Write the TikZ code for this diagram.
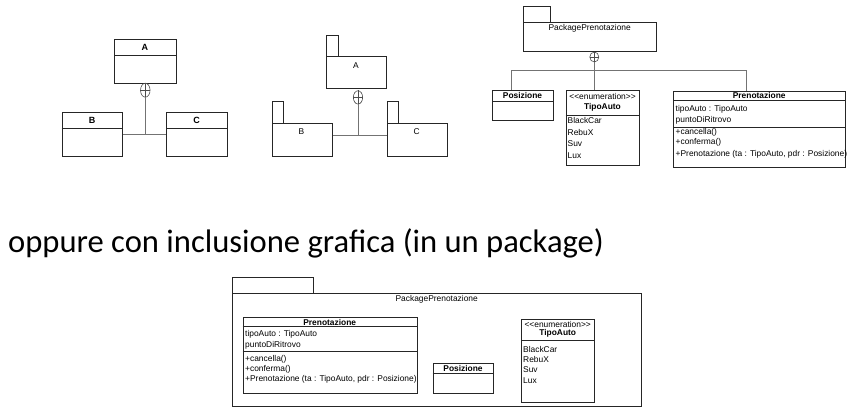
\documentclass[tikz,border=0pt]{standalone}
\usepackage{fontspec}
\setmainfont{Liberation Sans}
\newfontfamily\headfont{Carlito}
\usetikzlibrary{shapes.geometric}
\begin{document}
\begin{tikzpicture}[x=1pt,y=-1pt,
  box/.style={draw=black!85, line width=0.7pt, inner sep=0pt, anchor=north west},
  sepl/.style={draw=black!85, line width=0.6pt},
  conn/.style={draw=black!55, line width=0.8pt},
  txt/.style={inner sep=0pt, font=\fontsize{8.4}{10}\selectfont},
  ltxt/.style={txt, anchor=west},
  ttl/.style={inner sep=0pt, font=\fontsize{8.4}{10}\selectfont\bfseries},
  big/.style={inner sep=0pt, font=\fontsize{9}{10}\selectfont\bfseries},
  opl/.style={ellipse, draw=black!70, line width=0.6pt, inner sep=0pt},
]
\useasboundingbox (0,0) rectangle (856,414);

% ---------- Diagram 1 ----------
\node[box, minimum width=61.7pt, minimum height=43.4pt] (A1) at (114,39.3) {};
\draw[sepl] (114,55) -- (175.7,55);
\node[big] (A1t) at (144.8,47.2) {A};
\node[box, minimum width=60.6pt, minimum height=44pt] (B1) at (61.7,112) {};
\draw[sepl] (61.7,128.3) -- (122.3,128.3);
\node[big] (B1t) at (92,120.2) {B};
\node[box, minimum width=61.3pt, minimum height=44pt] (C1) at (166,112) {};
\draw[sepl] (166,128.3) -- (227.3,128.3);
\node[big] (C1t) at (196.7,120.2) {C};
\node[opl, minimum width=9.5pt, minimum height=14pt] (op1) at (145.3,90.2) {};
\draw[black!70, line width=0.6pt] (op1.north) -- (op1.south) (op1.west) -- (op1.east);
\coordinate (j1) at (145.3,134.3);
\draw[conn] (op1.south) -- (j1);
\draw[conn] (B1.east |- j1) -- (C1.west |- j1);

% ---------- Diagram 2 ----------
\node[box, minimum width=12pt, minimum height=21pt] (A2tab) at (325.7,35) {};
\node[box, minimum width=60.3pt, minimum height=32.3pt] (A2) at (325.7,56) {};
\node[txt] (A2t) at (355.8,66) {A};
\node[box, minimum width=11pt, minimum height=22.3pt] (B2tab) at (271.7,101) {};
\node[box, minimum width=60.6pt, minimum height=32.7pt] (B2) at (271.7,123.3) {};
\node[txt] (B2t) at (301.5,131.7) {B};
\node[box, minimum width=11.3pt, minimum height=22.3pt] (C2tab) at (387,101) {};
\node[box, minimum width=60.3pt, minimum height=32.7pt] (C2) at (387,123.3) {};
\node[txt] (C2t) at (416.7,131.7) {C};
\node[opl, minimum width=9.3pt, minimum height=13.3pt] (op2) at (358,97.4) {};
\draw[black!70, line width=0.6pt] (op2.north) -- (op2.south) (op2.west) -- (op2.east);
\coordinate (j2) at (358,135.7);
\draw[conn] (op2.south) -- (j2);
\draw[conn] (B2.east |- j2) -- (C2.west |- j2);

% ---------- Diagram 3 ----------
\node[box, minimum width=26.7pt, minimum height=15.7pt] (P3tab) at (523.3,6) {};
\node[box, minimum width=132.7pt, minimum height=29pt] (P3) at (523.3,21.7) {};
\node[txt] (P3t) at (589.7,28.3) {PackagePrenotazione};
\node[opl, minimum width=9pt, minimum height=10pt] (op3) at (594.3,57) {};
\draw[black!70, line width=0.6pt] (op3.north) -- (op3.south) (op3.west) -- (op3.east);

\node[box, minimum width=60.4pt, minimum height=30pt] (Pos3) at (492.3,90) {};
\draw[sepl] (492.3,101) -- (552.7,101);
\node[ttl] (Pos3t) at (522.5,95.5) {Posizione};

\node[box, minimum width=73.6pt, minimum height=75pt] (T3) at (565.7,90) {};
\node[txt] (T3s) at (602.5,96.7) {{<}{<}enumeration{>}{>}};
\node[ttl] (T3t) at (602.5,107.7) {TipoAuto};
\draw[sepl] (565.7,115) -- (639.3,115);
\node[ltxt] (T3a) at (567.5,120.7) {BlackCar};
\node[ltxt] (T3b) at (567.5,132) {RebuX};
\node[ltxt] (T3c) at (567.5,144) {Suv};
\node[ltxt] (T3d) at (567.5,155.3) {Lux};

\node[box, minimum width=171.7pt, minimum height=76.6pt] (Pren3) at (673.3,90.7) {};
\node[ttl] (Pren3t) at (759.2,95.5) {Prenotazione};
\draw[sepl] (673.3,100.3) -- (845,100.3);
\node[ltxt] (Pren3a) at (675.5,109.3) {tipoAuto : TipoAuto};
\node[ltxt] (Pren3b) at (675.5,120.7) {puntoDiRitrovo};
\draw[sepl] (673.3,127.3) -- (845,127.3);
\node[ltxt] (Pren3c) at (675.5,132) {+cancella()};
\node[ltxt] (Pren3d) at (675.5,142.7) {+conferma()};
\node[ltxt] (Pren3e) at (675.5,154) {+Prenotazione (ta : TipoAuto, pdr : Posizione)};

\coordinate (h3l) at (511,70);
\coordinate (h3r) at (746.5,70);
\draw[conn] (op3.south) -- (op3.south |- T3.north);
\draw[conn] (Pos3.north -| h3l) -- (h3l) -- (h3r) -- (h3r |- Pren3.north);

% ---------- Heading ----------
\node[anchor=base west, inner sep=0pt, font=\headfont\fontsize{32.6}{38}\selectfont] (head) at (8,252) {oppure con inclusione grafica (in un package)};

% ---------- Diagram 4 ----------
\node[box, minimum width=81.6pt, minimum height=15.4pt] (P4tab) at (231.7,277.3) {};
\node[box, minimum width=409.3pt, minimum height=113.3pt] (P4) at (231.7,292.7) {};
\node[txt] (P4t) at (436.7,299.3) {PackagePrenotazione};

\node[box, minimum width=174pt, minimum height=75.4pt] (Pren4) at (242.7,317.3) {};
\node[ttl] (Pren4t) at (329.7,322) {Prenotazione};
\draw[sepl] (242.7,326.7) -- (416.7,326.7);
\node[ltxt] (Pren4a) at (245,334.3) {tipoAuto : TipoAuto};
\node[ltxt] (Pren4b) at (245,345.7) {puntoDiRitrovo};
\draw[sepl] (242.7,351.7) -- (416.7,351.7);
\node[ltxt] (Pren4c) at (245,359.3) {+cancella()};
\node[ltxt] (Pren4d) at (245,369.3) {+conferma()};
\node[ltxt] (Pren4e) at (245,379.3) {+Prenotazione (ta : TipoAuto, pdr : Posizione)};

\node[box, minimum width=60.6pt, minimum height=30.6pt] (Pos4) at (432.7,362.7) {};
\draw[sepl] (432.7,373.3) -- (493.3,373.3);
\node[ttl] (Pos4t) at (463,368) {Posizione};

\node[box, minimum width=73.3pt, minimum height=82.4pt] (T4) at (521,319.3) {};
\node[txt] (T4s) at (557.7,324.3) {{<}{<}enumeration{>}{>}};
\node[ttl] (T4t) at (557.7,333.3) {TipoAuto};
\draw[sepl] (521,340.7) -- (594.3,340.7);
\node[ltxt] (T4a) at (523,349) {BlackCar};
\node[ltxt] (T4b) at (523,359.3) {RebuX};
\node[ltxt] (T4c) at (523,370) {Suv};
\node[ltxt] (T4d) at (523,380.7) {Lux};
\end{tikzpicture}
\end{document}
